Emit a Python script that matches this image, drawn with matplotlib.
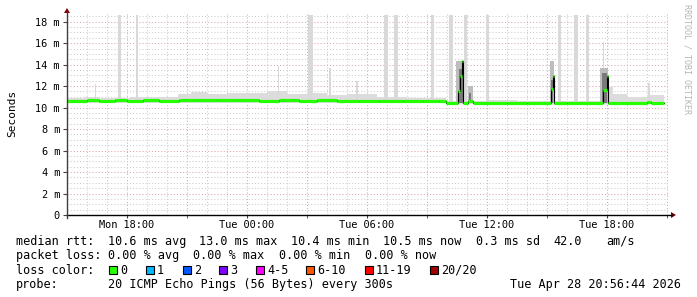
import matplotlib
matplotlib.use("Agg")
import matplotlib.pyplot as plt
from matplotlib.patches import Rectangle

# ---------------- data (time in hours after Mon 15:00, values in ms) -------------
median_t = [0.0, 1.0, 1.6, 2.4, 3.0, 3.8, 4.6, 5.6, 6.5, 7.5, 8.5, 9.6, 10.6, 11.6,
            12.5, 13.5, 14.6, 15.6, 16.8, 17.8, 18.6, 18.95, 19.57, 19.65, 19.73,
            19.8, 20.05, 20.3, 22.0, 23.0, 24.2, 24.28, 24.37, 25.0, 26.8, 26.98,
            27.07, 29.0, 29.2]
median_v = [10.66, 10.70, 10.64, 10.70, 10.66, 10.70, 10.64, 10.68, 10.72, 10.68,
            10.70, 10.66, 10.70, 10.66, 10.70, 10.64, 10.66, 10.62, 10.62, 10.60,
            10.57, 10.42, 11.55, 12.90, 14.30, 10.42, 10.60, 10.42, 10.44, 10.42,
            11.75, 12.90, 10.42, 10.40, 11.65, 12.97, 10.42, 10.50, 10.44]
data_end = 29.85

smoke_t = [0.0, 0.9, 1.6, 3.2, 4.0, 5.55, 6.2, 7.0, 8.0, 9.0, 10.0, 11.0, 12.0, 13.0,
           14.0, 15.5, 17.0, 18.95, 21.0, 22.5, 27.07, 27.3, 28.0, 29.0]
smoke_lo = [10.45, 10.45, 10.45, 10.45, 10.45, 10.40, 10.40, 10.40, 10.40, 10.40,
            10.40, 10.40, 10.40, 10.40, 10.40, 10.42, 10.42, 10.30, 10.30, 10.30,
            10.30, 10.30, 10.30, 10.30]
smoke_hi = [10.90, 11.00, 10.90, 11.00, 10.95, 11.30, 11.45, 11.25, 11.40, 11.35,
            11.50, 11.25, 11.40, 11.20, 11.30, 10.95, 10.90, 10.65, 10.75, 10.65,
            11.95, 11.25, 11.00, 11.15]

spike_t0 = [1.38, 2.53, 3.43, 10.55, 12.05, 13.10, 14.45, 15.85, 16.35, 18.20,
            19.10, 19.85, 20.95, 24.28, 24.53, 25.35, 25.95, 26.78, 29.05]
spike_t1 = [1.44, 2.68, 3.57, 10.62, 12.30, 13.20, 14.55, 16.05, 16.55, 18.35,
            19.28, 20.00, 21.08, 24.33, 24.68, 25.53, 26.08, 26.83, 29.15]
spike_top = [12.2, 18.6, 18.6, 13.9, 18.6, 13.7, 12.5, 18.6, 18.6, 18.6,
             18.6, 18.6, 18.6, 14.3, 18.6, 18.6, 18.6, 16.1, 12.3]

mid_t0 = [19.45, 20.05, 24.15, 26.65]
mid_t1 = [19.82, 20.28, 24.36, 27.04]
mid_top = [14.3, 12.0, 14.3, 13.7]

dark_t0 = [19.60, 20.10, 24.20, 26.75]
dark_t1 = [19.78, 20.22, 24.32, 26.98]
dark_top = [13.6, 11.4, 12.6, 13.2]

xtick_pos = [3, 9, 15, 21, 27]
xtick_labels = ["Mon 18:00", "Tue 00:00", "Tue 06:00", "Tue 12:00", "Tue 18:00"]
ytick_pos = [0, 2, 4, 6, 8, 10, 12, 14, 16, 18]
ytick_labels = ["0", "2 m", "4 m", "6 m", "8 m", "10 m", "12 m", "14 m", "16 m", "18 m"]

loss_labels = ["0", "1", "2", "3", "4-5", "6-10", "11-19", "20/20"]
loss_colors = ["#26ff00", "#00b8ff", "#0059ff", "#7e00ff", "#ff00ff", "#ff5500", "#ff0000", "#a10000"]
loss_x = [109, 146, 183, 219, 256, 306, 365, 430]

stats_rtt = ["10.6 ms avg", "13.0 ms max", "10.4 ms min", "10.5 ms now", "0.3 ms sd", "42.0", "am/s"]
stats_rtt_x = [107.7, 199.3, 291.0, 382.7, 476.0, 553.3, 606.7]
stats_loss = ["0.00 % avg", "0.00 % max", "0.00 % min", "0.00 % now"]
stats_loss_x = [107.7, 193.3, 279.3, 365.0]

# ---------------- figure ----------------
W, H = 697, 297
FONT = "DejaVu Sans Mono"
FS = 8.45      # legend
FS_AX = 7.4    # axis labels
fig = plt.figure(figsize=(W / 100, H / 100), dpi=100)
fig.patch.set_facecolor("white")

def fx(px):
    return px / W

def fy(py):
    return 1 - py / H

ax = fig.add_axes([fx(67), fy(215), (668 - 67) / W, (215 - 14) / H])
ax.set_facecolor("white")
xmax = (668 - 67) / 20.0
ymax = (215 - 14) / 10.74
ax.set_xlim(0, xmax)
ax.set_ylim(0, ymax)
for s in ax.spines.values():
    s.set_visible(False)

# grid
minor_c = "#cccccc"
major_c = "#e2a4a4"
dot = (0, (1, 2))
h = 1.0
while h <= xmax:
    c = major_c if int(round(h)) % 3 == 0 else minor_c
    ax.axvline(h, color=c, lw=0.75, ls=dot, zorder=0)
    h += 1
v = 0.5
while v <= ymax:
    c = major_c if abs(v % 2) < 1e-6 else minor_c
    ax.axhline(v, color=c, lw=0.75, ls=dot, zorder=0)
    v += 0.5

# smoke
st = smoke_t + [data_end]
ax.fill_between(st, smoke_lo + [smoke_lo[-1]], smoke_hi + [smoke_hi[-1]], step="post",
                color="#dcdcdc", lw=0, zorder=1)
for a, b, top in zip(spike_t0, spike_t1, spike_top):
    ax.bar(a, top - 10.4, bottom=10.4, width=b - a, align="edge", color="#d9d9d9", lw=0, zorder=1)
for a, b, top in zip(mid_t0, mid_t1, mid_top):
    ax.bar(a, top - 10.4, bottom=10.4, width=b - a, align="edge", color="#bdbdbd", lw=0, zorder=2)
for a, b, top in zip(dark_t0, dark_t1, dark_top):
    ax.bar(a, top - 10.4, bottom=10.4, width=b - a, align="edge", color="#7a7a7a", lw=0, zorder=2)

# median
mt = median_t + [data_end]
mv = median_v + [median_v[-1]]
ax.step(mt, mv, where="post", color="#000000", lw=0.8, zorder=3)
ax.hlines(median_v, median_t, median_t[1:] + [data_end], color=loss_colors[0], lw=2.3, zorder=4)

# ticks
ax.set_xticks(xtick_pos)
ax.set_xticklabels(xtick_labels, fontfamily=FONT, fontsize=FS_AX)
ax.set_xticks([0, 6, 12, 18, 24, 30], minor=True)
ax.set_yticks(ytick_pos)
ax.set_yticklabels(ytick_labels, fontfamily=FONT, fontsize=FS_AX)
ax.tick_params(axis="x", which="both", length=2.2, pad=1.5, color="#444444")
ax.tick_params(axis="y", length=2.8, pad=2.3, color="#444444")

# axes lines with arrows
arrow_c = "#7f0000"
fig.add_artist(plt.Line2D([fx(67), fx(672)], [fy(215), fy(215)], color="#000000", lw=1.0))
fig.add_artist(plt.Line2D([fx(67), fx(67)], [fy(218), fy(12)], color="#404040", lw=1.0))
fig.add_artist(plt.Polygon([[fx(671), fy(212)], [fx(676), fy(215)], [fx(671), fy(218)]],
                           closed=True, color=arrow_c, lw=0))
fig.add_artist(plt.Polygon([[fx(64), fy(13)], [fx(67), fy(8)], [fx(70), fy(13)]],
                           closed=True, color=arrow_c, lw=0))

# labels
fig.text(fx(12), fy(113), "Seconds", rotation=90, ha="center", va="center",
         fontfamily=FONT, fontsize=8.0)
fig.text(fx(687), fy(4), "RRDTOOL / TOBI OETIKER", rotation=270, ha="center", va="top",
         fontfamily=FONT, fontsize=6.0, color="#b4b4b4")

# legend
base = [245, 259.3, 273.5, 287.7]
fig.text(fx(16), fy(base[0]), "median rtt:", fontfamily=FONT, fontsize=FS, va="baseline")
for s, x in zip(stats_rtt, stats_rtt_x):
    fig.text(fx(x), fy(base[0]), s, fontfamily=FONT, fontsize=FS, va="baseline")
fig.text(fx(16), fy(base[1]), "packet loss:", fontfamily=FONT, fontsize=FS, va="baseline")
for s, x in zip(stats_loss, stats_loss_x):
    fig.text(fx(x), fy(base[1]), s, fontfamily=FONT, fontsize=FS, va="baseline")
fig.text(fx(16), fy(base[2]), "loss color:", fontfamily=FONT, fontsize=FS, va="baseline")
for lab, col, x in zip(loss_labels, loss_colors, loss_x):
    fig.add_artist(Rectangle((fx(x), fy(base[2])), 8 / W, 8 / H, facecolor=col,
                             edgecolor="black", lw=0.8))
    fig.text(fx(x + 11), fy(base[2]), lab, fontfamily=FONT, fontsize=FS, va="baseline")
fig.text(fx(16), fy(base[3]), "probe:", fontfamily=FONT, fontsize=FS, va="baseline")
fig.text(fx(107.7), fy(base[3]), "20 ICMP Echo Pings (56 Bytes) every 300s",
         fontfamily=FONT, fontsize=FS, va="baseline")
fig.text(fx(681), fy(base[3]), "Tue Apr 28 20:56:44 2026", fontfamily=FONT,
         fontsize=FS, va="baseline", ha="right")

fig.savefig("out.png", dpi=100, facecolor="white")
